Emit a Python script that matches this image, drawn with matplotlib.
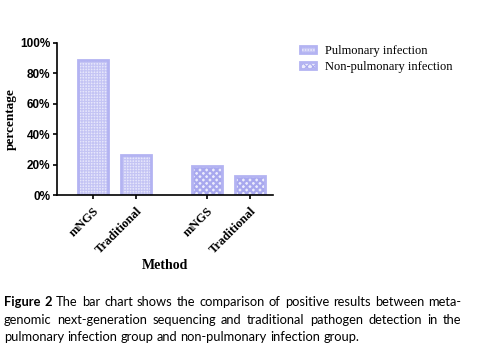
import matplotlib.pyplot as plt
import matplotlib as mpl
from matplotlib.ticker import PercentFormatter

groups = ["Pulmonary infection", "Non-pulmonary infection"]
methods = ["mNGS", "Traditional"]
pulmonary = [88.9, 26.0]
non_pulmonary = [19.0, 12.5]

caption_lines = [
    "Figure 2 The bar chart shows the comparison of positive results between meta-",
    "genomic next-generation sequencing and traditional pathogen detection in the",
    "pulmonary infection group and non-pulmonary infection group.",
]

mpl.rcParams['hatch.linewidth'] = 0.8
fig = plt.figure(figsize=(4.81, 3.55), dpi=100)
ax = fig.add_axes([0.1185, 0.4507, 0.449, 0.4282])

edge = "#b3b3f2"
pos1 = [0, 1]
pos2 = [2.65, 3.65]
mpl.rcParams['hatch.color'] = "#c4c4f4"
b1 = ax.bar(pos1, [v / 100 for v in pulmonary], width=0.7, facecolor="#e6e6fb",
            edgecolor=edge, linewidth=2, hatch="++++++", label=groups[0])
b2 = ax.bar(pos2, [v / 100 for v in non_pulmonary], width=0.7, facecolor="#ececfc",
            edgecolor=edge, linewidth=2, hatch="xxxxx", label=groups[1])
for p in b1:
    p._hatch_color = mpl.colors.to_rgba("#c4c4f4")
for p in b2:
    p._hatch_color = mpl.colors.to_rgba("#a8a8ee")
    if hasattr(p, "set_hatch_linewidth"):
        p.set_hatch_linewidth(1.6)

ax.set_xlim(-0.84, 4.18)
ax.set_ylim(0, 1.0)
ax.set_yticks([0, 0.2, 0.4, 0.6, 0.8, 1.0])
ax.yaxis.set_major_formatter(PercentFormatter(1.0, decimals=0))
for lab in ax.get_yticklabels():
    lab.set_fontfamily("Liberation Sans")
    lab.set_fontweight("bold")
    lab.set_fontsize(8.5)
ax.set_xticks(pos1 + pos2)
ax.set_xticklabels(methods + methods, rotation=45, ha="right", rotation_mode="anchor",
                   fontfamily="Liberation Serif", fontweight="bold", fontsize=9)
ax.tick_params(axis="both", width=1.2, length=3, color="black", pad=2)
ax.tick_params(axis="x", pad=4)
ax.spines["top"].set_visible(False)
ax.spines["right"].set_visible(False)
ax.spines["left"].set_linewidth(1.2)
ax.spines["bottom"].set_linewidth(1.2)
ax.set_ylabel("percentage", fontfamily="Liberation Serif", fontweight="bold",
              fontsize=9.5, labelpad=2)
ax.set_xlabel("Method", fontfamily="Liberation Serif", fontweight="bold",
              fontsize=10, labelpad=2)

fig.legend(handles=[b1, b2], labels=groups, loc="upper left",
           bbox_to_anchor=(0.6, 0.905), frameon=False,
           prop={"family": "Liberation Serif", "size": 9},
           handlelength=1.3, handleheight=0.5, handletextpad=0.7,
           labelspacing=0.3)

# caption, justified by hand
fig.canvas.draw()
r = fig.canvas.get_renderer()
x0, x1 = 4 / 481, 461 / 481
ys = [1 - 302 / 355, 1 - 320 / 355, 1 - 337 / 355]
fs = 9.3
for i, line in enumerate(caption_lines):
    words = line.split(" ")
    texts = []
    for j, w in enumerate(words):
        bold = i == 0 and j < 2
        t = fig.text(0, ys[i], w, fontsize=fs, fontfamily="Lato",
                     fontweight="bold" if bold else "normal", va="center")
        texts.append(t)
    widths = [t.get_window_extent(r).width / fig.bbox.width for t in texts]
    if i < len(caption_lines) - 1:
        gap = (x1 - x0 - sum(widths)) / (len(words) - 1)
    else:
        sp = fig.text(0, 0, "a a", fontsize=fs, fontfamily="Lato")
        sa = fig.text(0, 0, "aa", fontsize=fs, fontfamily="Lato")
        gap = (sp.get_window_extent(r).width - sa.get_window_extent(r).width) / fig.bbox.width
        sp.remove()
        sa.remove()
    x = x0
    for t, w in zip(texts, widths):
        t.set_x(x)
        x += w + gap

fig.savefig("out.png", dpi=100)
